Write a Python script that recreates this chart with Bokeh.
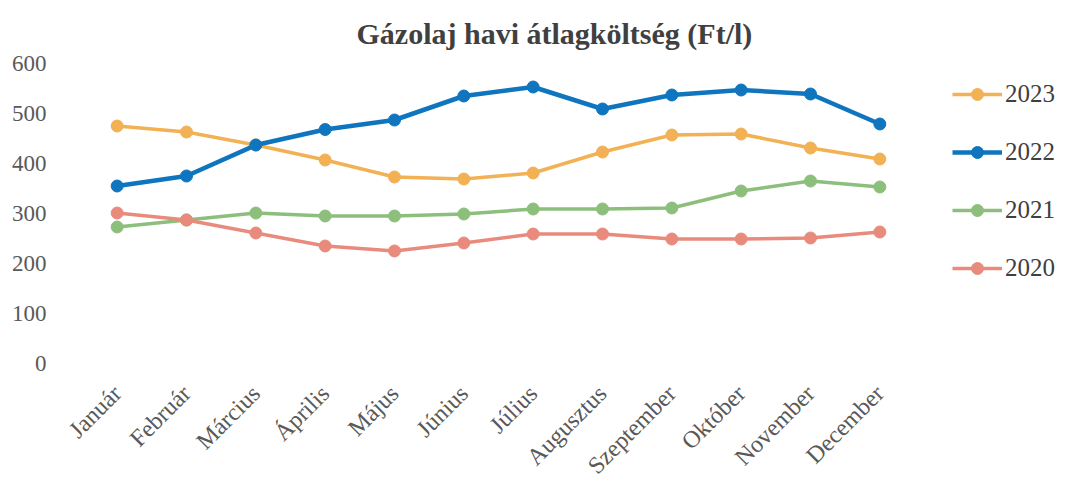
from bokeh.plotting import figure
from bokeh.models import Legend, LegendItem, Title, Range1d, SingleIntervalTicker, FixedTicker
from bokeh.embed import file_html
from bokeh.resources import INLINE
from math import pi

months = ["Január", "Február", "Március", "Április", "Május", "Június",
          "Július", "Augusztus", "Szeptember", "Október", "November", "December"]
y2023 = [475, 463, 437, 407, 373, 369, 381, 423, 457, 459, 431, 409]
y2022 = [355, 375, 437, 468, 487, 535, 553, 509, 537, 547, 539, 479]
y2021 = [273, 287, 301, 295, 295, 299, 309, 309, 311, 345, 365, 353]
y2020 = [301, 287, 261, 235, 225, 241, 259, 259, 249, 249, 251, 263]

series = [
    ("2023", y2023, "#F2B155", 3.5),
    ("2022", y2022, "#0F75BE", 4.5),
    ("2021", y2021, "#8DBF7C", 3.5),
    ("2020", y2020, "#E98B7C", 3.5),
]

FONT = "Liberation Serif"

W, H = 1060, 490
LEFT, TOP, BOTTOM, RIGHT = 82, 62, 127, 0
cat_px = 832 / len(months)           # width of one month slot on screen
xpos = list(range(len(months)))
x_end = -0.5 + (W - LEFT - RIGHT) / cat_px   # extra room on the right for the legend

p = figure(x_range=Range1d(-0.5, x_end), y_range=Range1d(0, 600),
           width=W, height=H, output_backend="svg", toolbar_location=None,
           min_border_left=LEFT, min_border_right=RIGHT, min_border_top=TOP,
           min_border_bottom=BOTTOM)
p.outline_line_color = None
p.xgrid.grid_line_color = None
p.ygrid.grid_line_color = None

p.title = Title(text="Gázolaj havi átlagköltség (Ft/l)", align="left", offset=274,
                text_font=FONT, text_font_size="30px", text_font_style="bold",
                text_color="#404040", standoff=28)

p.yaxis.ticker = SingleIntervalTicker(interval=100)
p.xaxis.ticker = FixedTicker(ticks=xpos)
p.xaxis.major_label_overrides = {i: m for i, m in zip(xpos, months)}
for ax in (p.xaxis, p.yaxis):
    ax.axis_line_color = None
    ax.major_tick_line_color = None
    ax.minor_tick_line_color = None
    ax.major_label_text_font = FONT
    ax.major_label_text_color = "#595959"
p.yaxis.major_label_text_font_size = "23px"
p.yaxis.major_label_standoff = 30
p.xaxis.major_label_text_font_size = "24px"
p.xaxis.major_label_orientation = pi / 4
p.xaxis.major_label_standoff = 20

items = []
for name, ys, color, lw in series:
    r1 = p.line(xpos, ys, line_color=color, line_width=lw)
    r2 = p.scatter(xpos, ys, size=12, fill_color=color, line_color=color)
    items.append(LegendItem(label=name, renderers=[r1, r2]))

legend = Legend(items=items, location=(870, 80), border_line_color=None,
                background_fill_alpha=0, glyph_width=50, glyph_height=30,
                spacing=28, margin=0, padding=4, label_standoff=3,
                label_text_font=FONT, label_text_font_size="25px",
                label_text_color="#404040")
p.add_layout(legend, "center")

open("out.html", "w").write(file_html(p, INLINE))
